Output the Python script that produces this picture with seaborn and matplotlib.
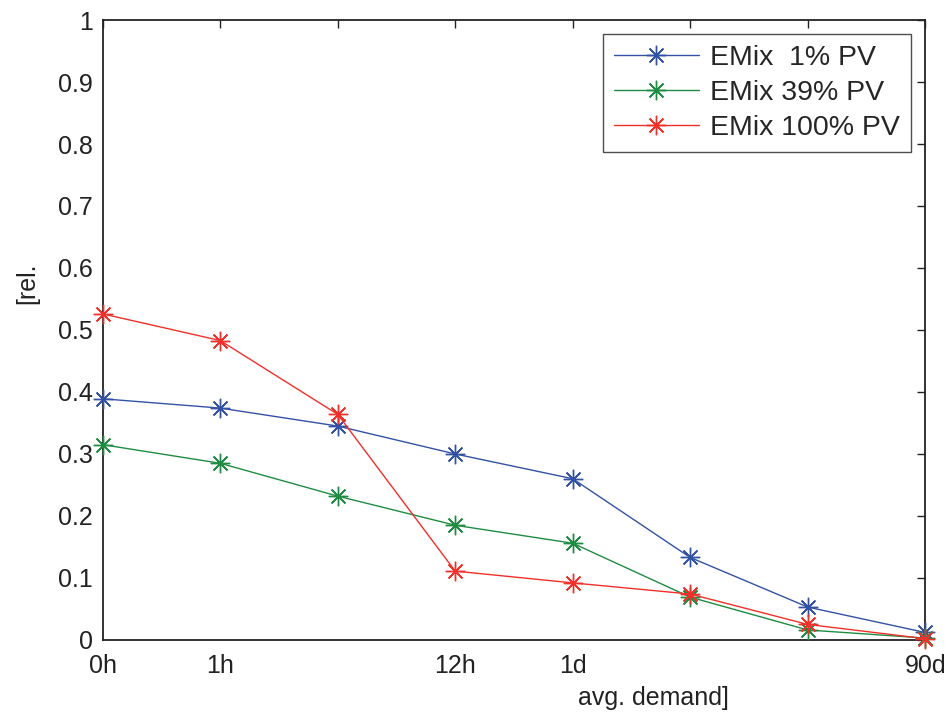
import pandas as pd
import matplotlib
matplotlib.use('Agg')
from matplotlib import pyplot as plt
import seaborn as sns

# data
positions = [0, 1, 2, 3, 4, 5, 6, 7]
tick_labels = ['0h', '1h', '', '12h', '1d', '', '', '90d']

emix_1 = [0.389, 0.374, 0.345, 0.300, 0.260, 0.133, 0.053, 0.012]
emix_39 = [0.315, 0.285, 0.232, 0.185, 0.156, 0.069, 0.016, 0.003]
emix_100 = [0.526, 0.483, 0.364, 0.111, 0.092, 0.074, 0.025, 0.002]

series_names = ['EMix  1% PV', 'EMix 39% PV', 'EMix 100% PV']
series_colors = ['#3352a4', '#1f8c43', '#f0302a']

sns.set_style('white')
plt.rcParams['font.family'] = ['Liberation Sans', 'DejaVu Sans']

fig = plt.figure(figsize=(9.5, 7.15), dpi=100)
ax = fig.add_axes([0.108, 0.105, 0.866, 0.867])

asterisk = (8, 2, 0)
for vals, name, col in zip([emix_1, emix_39, emix_100], series_names, series_colors):
    df = pd.DataFrame({'pos': positions, 'val': vals})
    sns.lineplot(data=df, x='pos', y='val', color=col, label=name, ax=ax,
                 marker=asterisk, markersize=14, markeredgewidth=1.0,
                 markeredgecolor=col, linewidth=1.0, clip_on=False, zorder=3)

ax.set_xlim(0, 7)
ax.set_ylim(0, 1)
ax.set_xticks(positions)
ax.set_xticklabels(tick_labels)
ax.set_yticks([i / 10 for i in range(11)])
ax.set_yticklabels(['0', '0.1', '0.2', '0.3', '0.4', '0.5', '0.6', '0.7', '0.8', '0.9', '1'])
ax.tick_params(direction='in', top=True, right=True, length=6, width=1.0,
               labelsize=18, color='#222222', labelcolor='#222222')
ax.tick_params(axis='x', pad=10)
ax.tick_params(axis='y', pad=7)

for sp in ax.spines.values():
    sp.set_visible(True)
    sp.set_color('#222222')
    sp.set_linewidth(1.3)

ax.set_xlabel('avg. demand]', fontsize=18, color='#222222')
ax.xaxis.set_label_coords(0.670, -0.074)
ax.set_ylabel('[rel.', fontsize=18, color='#222222')
ax.yaxis.set_label_coords(-0.077, 0.576)

leg = ax.legend(loc='upper right', fontsize=20.5, frameon=True, fancybox=False,
                edgecolor='#222222', handlelength=3.0, borderpad=0.38,
                labelspacing=0.32, borderaxespad=0.5, handletextpad=0.4)
leg.get_frame().set_linewidth(1.0)

fig.savefig('out.png', dpi=100)
